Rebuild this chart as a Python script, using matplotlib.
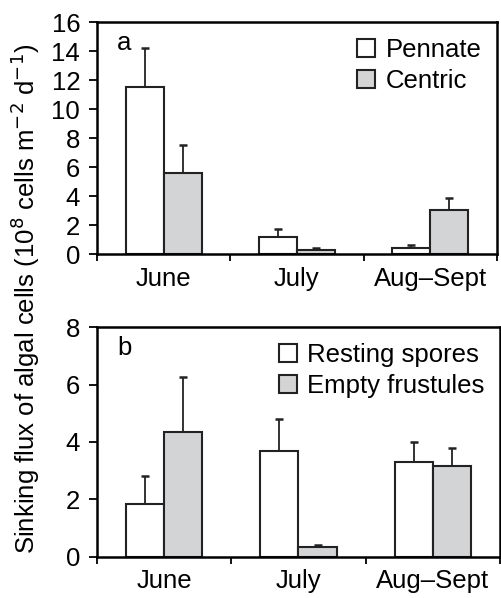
import matplotlib
matplotlib.use("Agg")
import matplotlib.pyplot as plt
import numpy as np

plt.rcParams['font.family'] = ['Liberation Sans', 'DejaVu Sans']

months = ["June", "July", "Aug\u2013Sept"]
# panel a
pennate = [11.5, 1.2, 0.4]
pennate_top = [14.2, 1.75, 0.6]
centric = [5.6, 0.3, 3.05]
centric_top = [7.5, 0.45, 3.85]
# panel b
resting = [1.85, 3.7, 3.3]
resting_top = [2.8, 4.8, 4.0]
empty = [4.35, 0.35, 3.15]
empty_top = [6.25, 0.4, 3.8]

gray = "#d3d4d6"
edge = "#222222"
fs = 18.5

fig = plt.figure(figsize=(5.02, 5.98), dpi=100)
ax1 = fig.add_axes([0.193, 0.575, 0.797, 0.388])
ax2 = fig.add_axes([0.193, 0.069, 0.803, 0.384])

def panel(ax, v1, t1, v2, t2, names, letter, ymax, ystep):
    x = np.arange(len(months)) + 0.5
    w = 0.285
    ax.bar(x - w/2, v1, w, color="white", edgecolor=edge, linewidth=1.5, label=names[0], zorder=2)
    ax.bar(x + w/2, v2, w, color=gray, edgecolor=edge, linewidth=1.5, label=names[1], zorder=2)
    ax.errorbar(x - w/2, v1, yerr=[np.zeros(3), np.array(t1) - np.array(v1)], fmt="none",
                ecolor=edge, elinewidth=1.3, capsize=3, capthick=1.8, zorder=1)
    ax.errorbar(x + w/2, v2, yerr=[np.zeros(3), np.array(t2) - np.array(v2)], fmt="none",
                ecolor=edge, elinewidth=1.3, capsize=3, capthick=1.8, zorder=1)
    ax.set_xlim(0, 3)
    ax.set_ylim(0, ymax)
    ax.set_yticks(np.arange(0, ymax + 0.1, ystep))
    ax.set_xticks([0, 1, 2, 3])
    ax.set_xticklabels([])
    ax.set_xticks(x, minor=True)
    ax.set_xticklabels(months, minor=True)
    ax.tick_params(axis="x", which="minor", length=0, labelsize=fs, pad=9)
    ax.tick_params(axis="x", which="major", length=5, width=1.3, direction="out")
    ax.tick_params(axis="y", length=6, width=1.3, labelsize=fs, direction="out", pad=6)
    for s in ax.spines.values():
        s.set_linewidth(1.8)
    ax.text(0.05, 0.91, letter, transform=ax.transAxes, fontsize=fs, va="center")
    ax.legend(loc="upper right", fontsize=fs, frameon=False, handlelength=0.7, handleheight=0.7,
              handletextpad=0.4, borderaxespad=0.2, labelspacing=0.3)

panel(ax1, pennate, pennate_top, centric, centric_top, ["Pennate", "Centric"], "a", 16, 2)
panel(ax2, resting, resting_top, empty, empty_top, ["Resting spores", "Empty frustules"], "b", 8, 2)

fig.text(0.05, 0.5, "Sinking flux of algal cells (10$^{8}$ cells m$^{-2}$ d$^{-1}$)",
         rotation=90, va="center", ha="center", fontsize=fs)

fig.savefig("out.png", dpi=100)
